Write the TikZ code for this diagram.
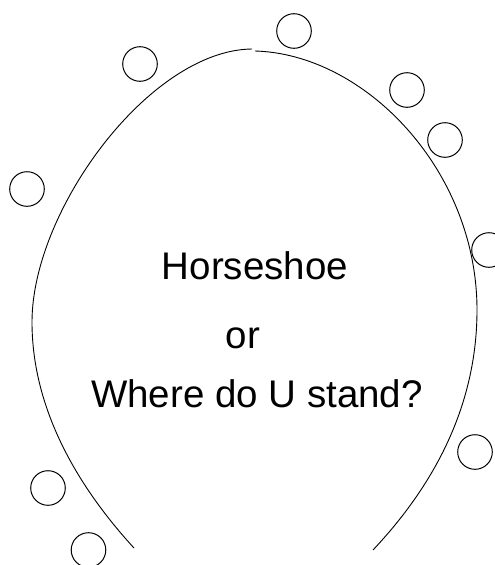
\documentclass[tikz,border=0pt]{standalone}
\usepackage{fontspec}
\setmainfont{Liberation Sans}
\begin{document}
\begin{tikzpicture}[x=1pt,y=-1pt,
  seat/.style={draw,circle,line width=1pt,minimum size=34.6pt,inner sep=0pt},
  shoe/.style={draw,line width=0.9pt},
  lbl/.style={anchor=base,inner sep=0pt,font=\fontsize{38.5}{40}\selectfont}]
\useasboundingbox (0,0) rectangle (495,565);
% horseshoe arcs
\coordinate (ltop) at (252,49);
\coordinate (lmid) at (32,322);
\coordinate (lend) at (134,548);
\coordinate (rtop) at (255,51);
\coordinate (rmid) at (477,310);
\coordinate (rend) at (373,550);
\draw[shoe] (ltop) .. controls (150,50) and (32,210) .. (lmid)
            .. controls (32,420) and (90,500) .. (lend);
\draw[shoe] (rtop) .. controls (365,54) and (477,170) .. (rmid)
            .. controls (477,420) and (420,500) .. (rend);
% seats
\node[seat] (c1) at (294,31) {};
\node[seat] (c2) at (140,64) {};
\node[seat] (c3) at (407,90) {};
\node[seat] (c4) at (445,140) {};
\node[seat] (c5) at (27,189) {};
\node[seat] (c6) at (489,250) {};
\node[seat] (c7) at (475,452) {};
\node[seat] (c8) at (48,488) {};
\node[seat] (c9) at (88.5,550) {};
% text
\node[lbl] (t1) at (255,279) {Horseshoe};
\node[lbl] (t2) at (243,348) {or};
\node[lbl] (t3) at (257,407) {Where do U stand?};
\end{tikzpicture}
\end{document}
